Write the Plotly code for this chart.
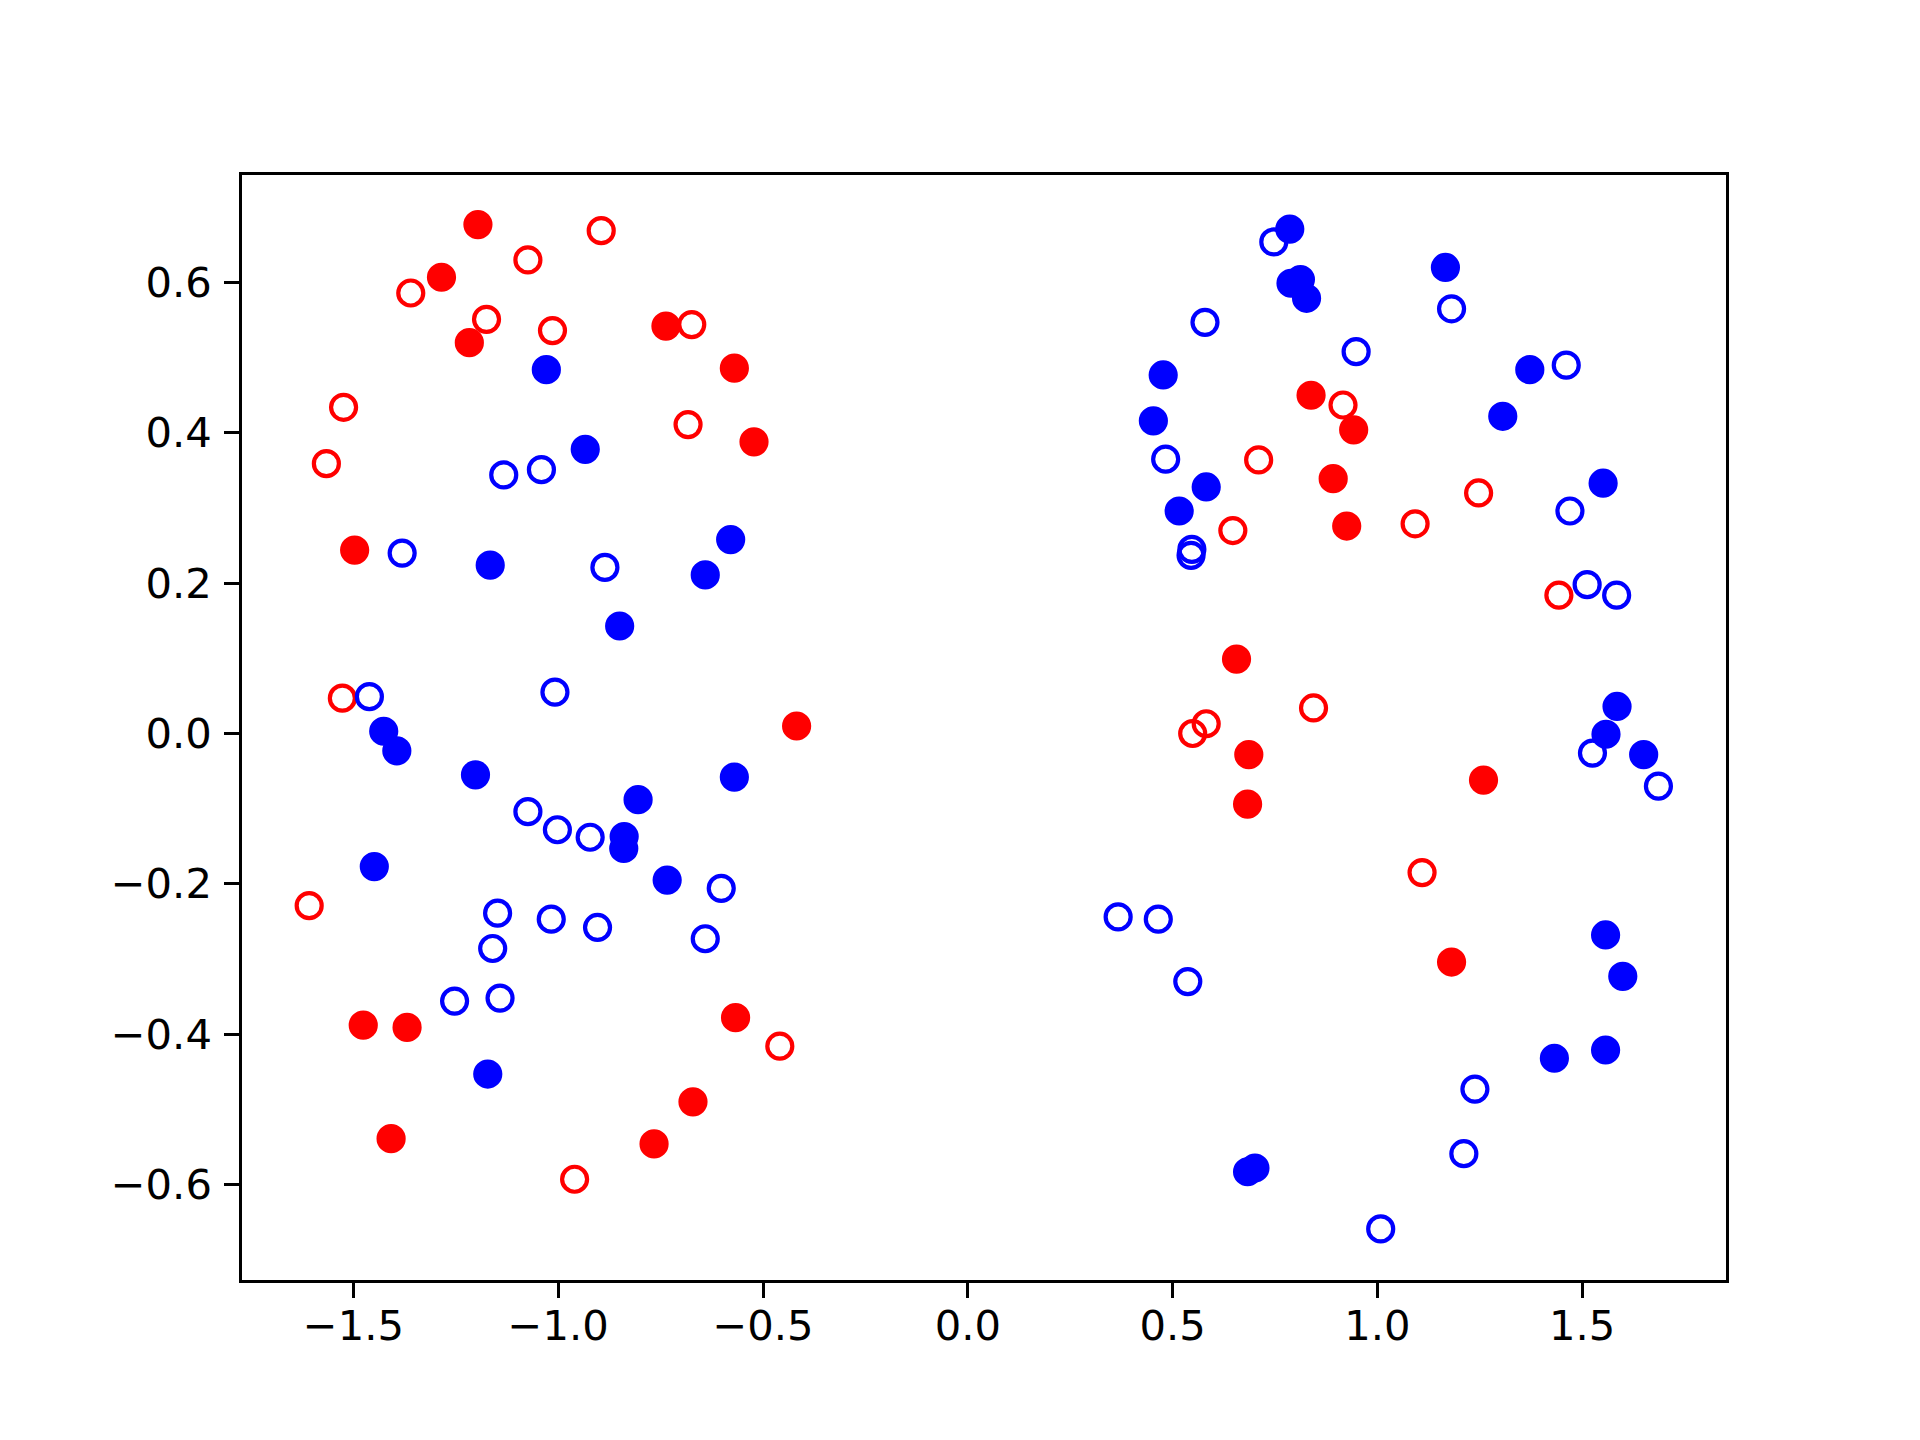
import plotly.graph_objects as go

# filled red points
red_fill_x = [-1.196, -1.285, -1.217, -0.737, -0.570, -0.522, -1.497, -0.418, -1.476, -1.369,
              -0.567, -0.671, -1.408, -0.766,
              0.838, 0.942, 0.892, 0.925, 0.656, 0.686, 0.683, 1.259, 1.181]
red_fill_y = [0.677, 0.607, 0.520, 0.542, 0.486, 0.388, 0.244, 0.010, -0.388, -0.391,
              -0.378, -0.490, -0.539, -0.546,
              0.450, 0.404, 0.339, 0.276, 0.099, -0.028, -0.094, -0.062, -0.304]

# open red points
red_open_x = [-0.895, -1.074, -1.360, -1.175, -1.014, -0.674, -1.524, -0.683, -1.566, -1.527,
              -1.608, -0.459, -0.960,
              0.916, 0.710, 0.647, 1.092, 1.247, 1.443, 0.582, 0.549, 0.844, 1.109]
red_open_y = [0.669, 0.630, 0.586, 0.551, 0.536, 0.544, 0.434, 0.411, 0.359, 0.047,
              -0.229, -0.416, -0.593,
              0.437, 0.364, 0.270, 0.279, 0.320, 0.184, 0.013, 0.000, 0.034, -0.185]

# filled blue points
blue_fill_x = [-1.029, -0.934, -0.579, -1.166, -0.641, -0.850, -1.426, -1.394, -1.202, -0.570,
               -0.805, -0.839, -0.840, -0.734, -1.449, -1.172,
               0.786, 0.812, 0.789, 0.827, 1.166, 0.477, 0.453, 0.582, 0.516, 1.372,
               1.306, 1.551, 1.585, 1.558, 1.650, 1.557, 1.599, 1.557, 1.432, 0.683, 0.701]
blue_fill_y = [0.484, 0.378, 0.258, 0.224, 0.211, 0.143, 0.003, -0.023, -0.055, -0.058,
               -0.088, -0.137, -0.153, -0.195, -0.177, -0.453,
               0.671, 0.604, 0.599, 0.579, 0.620, 0.477, 0.416, 0.328, 0.296, 0.484,
               0.422, 0.333, 0.036, -0.001, -0.028, -0.268, -0.323, -0.421, -0.432, -0.583, -0.578]

# open blue points
blue_open_x = [-1.133, -1.041, -1.381, -0.886, -1.461, -1.008, -1.074, -1.002, -0.922, -0.602,
               -1.148, -1.017, -0.904, -0.641, -1.160, -1.142, -1.253,
               0.747, 0.579, 1.181, 0.948, 1.461, 0.483, 0.547, 0.545, 1.470, 1.512,
               1.584, 1.525, 1.686, 0.367, 0.465, 0.537, 1.238, 1.211, 1.008]
blue_open_y = [0.344, 0.351, 0.240, 0.221, 0.049, 0.055, -0.104, -0.128, -0.138, -0.206,
               -0.239, -0.247, -0.258, -0.273, -0.286, -0.352, -0.356,
               0.654, 0.547, 0.565, 0.508, 0.490, 0.365, 0.245, 0.237, 0.296, 0.198,
               0.184, -0.026, -0.070, -0.244, -0.247, -0.330, -0.473, -0.559, -0.659]

x_ticks = [-1.5, -1.0, -0.5, 0.0, 0.5, 1.0, 1.5]
x_labels = ["\u22121.5", "\u22121.0", "\u22120.5", "0.0", "0.5", "1.0", "1.5"]
y_ticks = [-0.6, -0.4, -0.2, 0.0, 0.2, 0.4, 0.6]
y_labels = ["\u22120.6", "\u22120.4", "\u22120.2", "0.0", "0.2", "0.4", "0.6"]

fig = go.Figure()


def add_points(xs, ys, color, filled):
    fig.add_trace(go.Scatter(
        x=xs, y=ys, mode="markers", showlegend=False,
        marker=dict(symbol="circle", size=25,
                    color=color if filled else "rgba(0,0,0,0)",
                    line=dict(color=color, width=4.2)),
    ))


add_points(red_open_x, red_open_y, "#ff0000", False)
add_points(blue_open_x, blue_open_y, "#0000ff", False)
add_points(red_fill_x, red_fill_y, "#ff0000", True)
add_points(blue_fill_x, blue_fill_y, "#0000ff", True)

axis_style = dict(showgrid=False, zeroline=False, showline=True, mirror=True,
                  linecolor="black", linewidth=3.3, ticks="outside", ticklen=14.6,
                  tickwidth=3.3, tickcolor="black",
                  tickfont=dict(family="DejaVu Sans", size=41.7, color="black"))

fig.update_xaxes(range=[-1.772, 1.851], tickvals=x_ticks, ticktext=x_labels,
                 ticklabelstandoff=-8, **axis_style)
fig.update_yaxes(range=[-0.727, 0.743], tickvals=y_ticks, ticktext=y_labels,
                 ticklabelstandoff=4, **axis_style)

fig.update_layout(
    width=1920, height=1440, autosize=False,
    margin=dict(l=242, r=194, t=175, b=160, pad=0),
    plot_bgcolor="white", paper_bgcolor="white",
    font=dict(family="DejaVu Sans"),
)

fig.write_html("out.html", config={"displayModeBar": False},
               post_script="document.body.style.margin='0';")
